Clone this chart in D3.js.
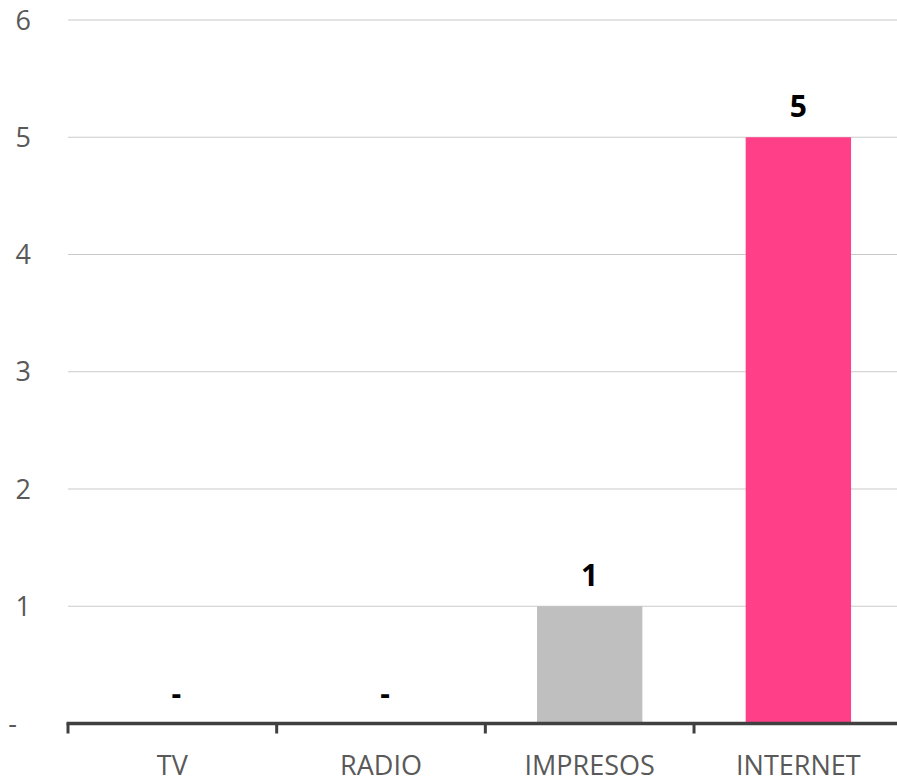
<!DOCTYPE html>
<html>
<head>
<meta charset="utf-8">
<script src="https://cdn.jsdelivr.net/npm/d3@7"></script>
<style>
  html, body { margin: 0; padding: 0; background: #fff; }
  svg { display: block; }
</style>
</head>
<body>
<div id="chart"></div>
<script>
const categories = ["TV", "RADIO", "IMPRESOS", "INTERNET"];
const values = [0, 0, 1, 5];
const barColors = ["#BFBFBF", "#BFBFBF", "#BFBFBF", "#FF4088"];
const yTicks = [0, 1, 2, 3, 4, 5, 6];

(function () {
const W = 897, H = 781;
const plotLeft = 68, plotRight = 902.7, plotTop = 20, plotBottom = 723.5;

const svg = d3.select("#chart").append("svg")
  .attr("width", W).attr("height", H);

const x = d3.scaleBand().domain(categories).range([plotLeft, plotRight])
  .paddingInner(0.495).paddingOuter(0.2475);
const y = d3.scaleLinear().domain([0, 6]).range([plotBottom, plotTop]);

// gridlines
svg.append("g").selectAll("line")
  .data(yTicks.filter(d => d > 0))
  .join("line")
  .attr("x1", plotLeft).attr("x2", plotRight)
  .attr("y1", d => y(d)).attr("y2", d => y(d))
  .attr("stroke", "#CACACA").attr("stroke-width", 1.1);

// y tick labels
svg.append("g").selectAll("text")
  .data(yTicks)
  .join("text")
  .attr("x", d => d === 0 ? 17 : 31)
  .attr("y", d => y(d))
  .attr("dy", "0.355em")
  .attr("text-anchor", "end")
  .attr("font-family", "'Open Sans', sans-serif")
  .attr("font-size", 27)
  .attr("fill", "#595959")
  .text(d => d === 0 ? "-" : d3.format("d")(d));

// bars
svg.append("g").selectAll("rect")
  .data(categories.map((c, i) => ({c, v: values[i], col: barColors[i]})))
  .join("rect")
  .attr("x", d => x(d.c))
  .attr("width", x.bandwidth())
  .attr("y", d => y(d.v))
  .attr("height", d => y(0) - y(d.v))
  .attr("fill", d => d.col);

// data labels
svg.append("g").selectAll("text")
  .data(categories.map((c, i) => ({c, v: values[i]})))
  .join("text")
  .attr("x", d => x(d.c) + x.bandwidth() / 2 + (d.v === 0 ? 4 : 0))
  .attr("y", d => y(d.v) - 20)
  .attr("text-anchor", "middle")
  .attr("font-family", "'Open Sans', sans-serif")
  .attr("font-weight", "bold")
  .attr("font-size", 30)
  .attr("fill", "#000")
  .text(d => d.v === 0 ? "-" : d3.format("d")(d.v));

// x axis line
svg.append("line")
  .attr("x1", plotLeft - 1.5).attr("x2", plotRight)
  .attr("y1", y(0)).attr("y2", y(0))
  .attr("stroke", "#404040").attr("stroke-width", 3.5);

// tick marks at category boundaries
const step = x.step();
const boundaries = d3.range(categories.length + 1).map(i => plotLeft + i * step);
svg.append("g").selectAll("line")
  .data(boundaries)
  .join("line")
  .attr("x1", d => d).attr("x2", d => d)
  .attr("y1", y(0)).attr("y2", y(0) + 10)
  .attr("stroke", "#404040").attr("stroke-width", 3);

// category labels
svg.append("g").selectAll("text")
  .data(categories)
  .join("text")
  .attr("x", d => x(d) + x.bandwidth() / 2)
  .attr("y", 774.5)
  .attr("text-anchor", "middle")
  .attr("font-family", "'Open Sans', sans-serif")
  .attr("font-size", 27)
  .attr("fill", "#595959")
  .text(d => d);
})();
</script>
</body>
</html>
